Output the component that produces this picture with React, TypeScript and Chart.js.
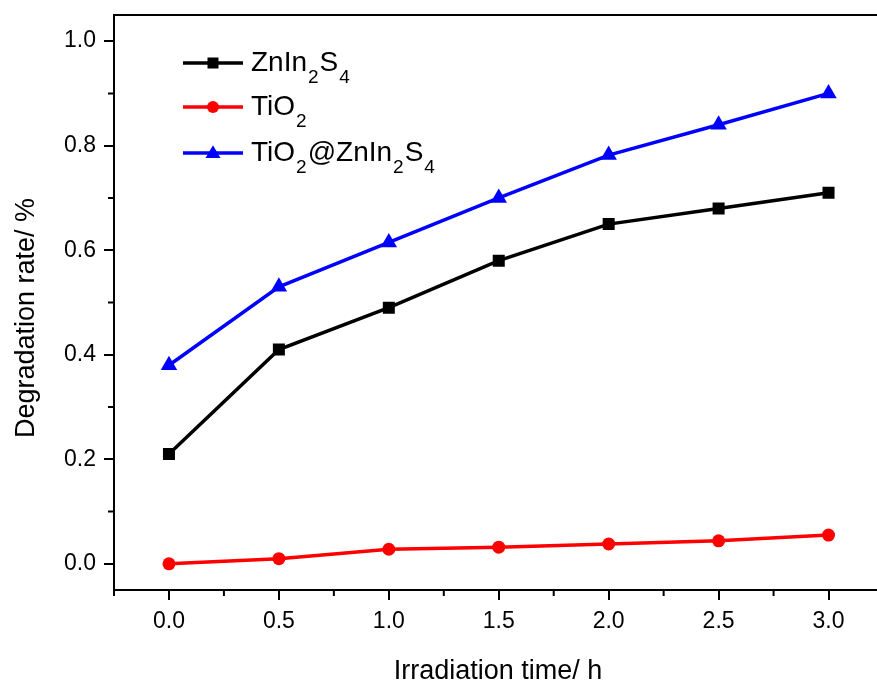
import React, { useEffect, useRef } from "react";
import { Chart, registerables } from "chart.js";

Chart.register(...registerables);

const times = [0, 0.5, 1.0, 1.5, 2.0, 2.5, 3.0];
const znIn2S4 = [0.21, 0.41, 0.49, 0.58, 0.65, 0.68, 0.71];
const tiO2 = [0.0, 0.01, 0.028, 0.032, 0.038, 0.044, 0.055];
const composite = [0.38, 0.53, 0.615, 0.70, 0.782, 0.84, 0.90];

const xTicks = [0, 0.5, 1.0, 1.5, 2.0, 2.5, 3.0];
const xMinorTicks = [-0.25, 0.25, 0.75, 1.25, 1.75, 2.25, 2.75, 3.25];
const yTicks = [0, 0.2, 0.4, 0.6, 0.8, 1.0];
const yMinorTicks = [0.1, 0.3, 0.5, 0.7, 0.9];

type Part = { t: string; sub?: boolean };
const legendLabels: Part[][] = [
  [{ t: "ZnIn" }, { t: "2", sub: true }, { t: "S" }, { t: "4", sub: true }],
  [{ t: "TiO" }, { t: "2", sub: true }],
  [{ t: "TiO" }, { t: "2", sub: true }, { t: "@ZnIn" }, { t: "2", sub: true }, { t: "S" }, { t: "4", sub: true }],
];
const seriesColors = ["#000000", "#ff0000", "#0000ff"];
const seriesStyles = ["rect", "circle", "triangle"];

const xTitle = "Irradiation time/ h";
const yTitle = "Degradation rate/ %";

const FONT = '"Liberation Sans", Arial, sans-serif';

function drawMarker(ctx: CanvasRenderingContext2D, style: string, x: number, y: number, s: number) {
  ctx.beginPath();
  if (style === "rect") {
    ctx.rect(x - s / 2, y - s / 2, s, s);
  } else if (style === "circle") {
    ctx.arc(x, y, s / 2, 0, Math.PI * 2);
  } else {
    const h = s * 0.85;
    ctx.moveTo(x, y - h * 0.6);
    ctx.lineTo(x + s / 2, y + h * 0.4);
    ctx.lineTo(x - s / 2, y + h * 0.4);
    ctx.closePath();
  }
  ctx.fill();
}

function drawRich(ctx: CanvasRenderingContext2D, parts: Part[], x: number, y: number) {
  let cx = x;
  ctx.textAlign = "left";
  ctx.textBaseline = "alphabetic";
  for (const p of parts) {
    if (p.sub) {
      ctx.font = `19px ${FONT}`;
      ctx.fillText(p.t, cx + 1, y + 12);
      cx += ctx.measureText(p.t).width + 2;
    } else {
      ctx.font = `28px ${FONT}`;
      ctx.fillText(p.t, cx, y);
      cx += ctx.measureText(p.t).width;
    }
  }
}

const decorPlugin = {
  id: "decor",
  afterDraw(chart: any) {
    const ctx: CanvasRenderingContext2D = chart.ctx;
    const { left, right, top, bottom } = chart.chartArea;
    const xs = chart.scales.x;
    const ys = chart.scales.y;
    ctx.save();
    ctx.strokeStyle = "#000";
    ctx.lineWidth = 2;
    ctx.beginPath();
    ctx.moveTo(left - 1, top);
    ctx.lineTo(right + 1, top);
    ctx.stroke();
    ctx.beginPath();
    for (const v of xMinorTicks) {
      const px = xs.getPixelForValue(v);
      ctx.moveTo(px, bottom);
      ctx.lineTo(px, bottom + 6);
    }
    for (const v of yMinorTicks) {
      const py = ys.getPixelForValue(v);
      ctx.moveTo(left, py);
      ctx.lineTo(left - 6, py);
    }
    ctx.stroke();

    ctx.fillStyle = "#000";
    ctx.font = `27px ${FONT}`;
    ctx.textAlign = "center";
    ctx.textBaseline = "alphabetic";
    ctx.fillText(xTitle, 498, 679);
    ctx.save();
    ctx.translate(34, 318);
    ctx.rotate(-Math.PI / 2);
    ctx.fillText(yTitle, 0, 0);
    ctx.restore();

    const rowYs = [63, 107, 153];
    const sizes = [11, 12, 15];
    for (let i = 0; i < 3; i++) {
      const y = rowYs[i];
      ctx.strokeStyle = seriesColors[i];
      ctx.fillStyle = seriesColors[i];
      ctx.lineWidth = 3.5;
      ctx.beginPath();
      ctx.moveTo(183, y);
      ctx.lineTo(243, y);
      ctx.stroke();
      drawMarker(ctx, seriesStyles[i], 213, y, sizes[i]);
      ctx.fillStyle = "#000";
      drawRich(ctx, legendLabels[i], 251, y + 8);
    }
    ctx.restore();
  },
};

export default function App() {
  const ref = useRef<HTMLCanvasElement | null>(null);
  useEffect(() => {
    if (!ref.current) return;
    const mk = (data: number[], i: number, radius: number) => ({
      label: "s" + i,
      data: times.map((t, k) => ({ x: t, y: data[k] })),
      borderColor: seriesColors[i],
      backgroundColor: seriesColors[i],
      borderWidth: 3.5,
      pointStyle: seriesStyles[i] as any,
      pointRadius: radius,
      pointHoverRadius: radius,
      pointBorderWidth: 0,
      tension: 0,
    });
    const chart = new Chart(ref.current, {
      type: "line",
      data: {
        datasets: [mk(znIn2S4, 0, 8.5), mk(tiO2, 1, 6.5), mk(composite, 2, 9.5)],
      },
      plugins: [decorPlugin],
      options: {
        responsive: false,
        animation: false,
        events: [],
        layout: { padding: { top: 15, right: 1, left: 0, bottom: 0 } },
        plugins: { legend: { display: false }, tooltip: { enabled: false } },
        scales: {
          x: {
            type: "linear",
            min: -0.25,
            max: 3.25,
            afterBuildTicks: (s: any) => {
              s.ticks = xTicks.map((v) => ({ value: v }));
            },
            afterFit: (s: any) => {
              s.height = 94;
              s.paddingLeft = 0;
              s.paddingRight = 0;
            },
            grid: { drawOnChartArea: false, drawTicks: true, tickLength: 10, color: "#000", lineWidth: 2 },
            border: { display: true, color: "#000", width: 2 },
            ticks: {
              color: "#000",
              font: { family: FONT, size: 23 },
              padding: 8,
              maxRotation: 0,
              autoSkip: false,
              callback: (v: any) => Number(v).toFixed(1),
            },
          },
          y: {
            type: "linear",
            min: -0.05,
            max: 1.05,
            afterBuildTicks: (s: any) => {
              s.ticks = yTicks.map((v) => ({ value: v }));
            },
            afterFit: (s: any) => {
              s.width = 114;
              s.paddingTop = 0;
              s.paddingBottom = 0;
            },
            grid: { drawOnChartArea: false, drawTicks: true, tickLength: 10, color: "#000", lineWidth: 2 },
            border: { display: true, color: "#000", width: 2 },
            ticks: {
              color: "#000",
              font: { family: FONT, size: 23 },
              padding: 8,
              autoSkip: false,
              callback: (v: any) => Number(v).toFixed(1),
            },
          },
        },
      },
    });
    return () => chart.destroy();
  }, []);
  return (
    <div style={{ position: "absolute", left: 0, top: 0, width: 877, height: 684, overflow: "hidden", background: "#fff" }}>
      <canvas ref={ref} width={893} height={684} style={{ width: 893, height: 684, display: "block" }} />
    </div>
  );
}
